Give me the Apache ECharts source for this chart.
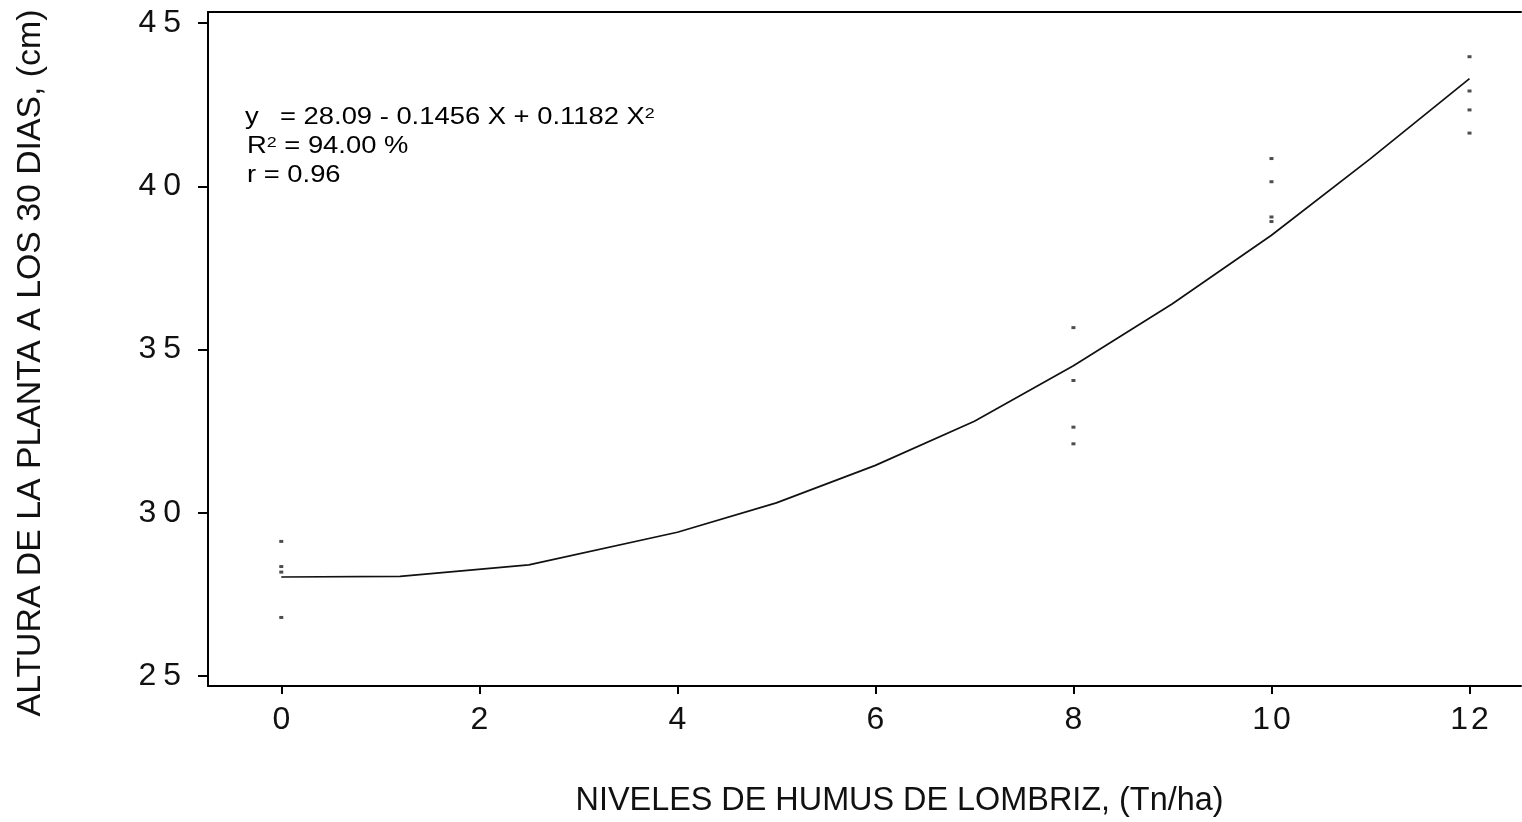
<!DOCTYPE html>
<html><head><meta charset="utf-8">
<script src="https://cdn.jsdelivr.net/npm/echarts@6/dist/echarts.min.js"></script>
<style>html,body{margin:0;padding:0;background:#fff}#c{width:1522px;height:822px}</style>
</head><body><div id="c"></div>
<script>
// ---- data ----
const xTicks = [0, 2, 4, 6, 8, 10, 12];
const yTicks = [25, 30, 35, 40, 45];
const levels = [0, 8, 10, 12];
const obsAt0 = [29.12, 28.35, 28.18, 26.79];
const obsAt8 = [35.67, 34.05, 32.62, 32.11];
const obsAt10 = [40.85, 40.14, 39.06, 38.92];
const obsAt12 = [43.97, 42.92, 42.34, 41.63];
const fitX = [0, 1.2, 2.5, 4, 5, 6, 7, 8, 9, 10, 11, 12];
const fitY = [28.03, 28.05, 28.4, 29.4, 30.3, 31.45, 32.8, 34.5, 36.4, 38.5, 40.85, 43.3];
const xTitle = 'NIVELES DE HUMUS DE LOMBRIZ, (Tn/ha)';
const yTitle = 'ALTURA DE LA PLANTA A LOS 30 DIAS, (cm)';
const eqLine1 = '= 28.09 - 0.1456 X + 0.1182 X';
const eqLine2 = '= 94.00 %';
const eqLine3 = 'r = 0.96';

const FONT = '"Liberation Sans", Arial, Helvetica, sans-serif';
const X_MIN = -0.74, X_MAX = 12.52, Y_MIN = 24.69, Y_MAX = 45.34;
const obsGroups = [obsAt0, obsAt8, obsAt10, obsAt12];
const scatterData = [];
obsGroups.forEach((g, i) => g.forEach(v => scatterData.push([levels[i], v])));
const fitData = fitX.map((x, i) => [x, fitY[i]]);

function spaced(v, cls) {
  const s = String(v);
  let out = '';
  for (let i = 0; i < s.length; i++) out += '{' + (i === 0 ? 'a' : cls) + '|' + s[i] + '}';
  return out;
}
const lblBase = { fontSize: 32, fontFamily: FONT, color: '#111' };
const supStyle = { fontSize: 15, fontFamily: FONT, fill: '#000', lineHeight: 15, verticalAlign: 'top' };
const eqStyle = { fontSize: 23, lineHeight: 23, fontFamily: FONT, fill: '#000', verticalAlign: 'middle' };
const EQ_SX = 1.19;

const chart = echarts.init(document.getElementById('c'), null, { renderer: 'canvas' });
chart.setOption({
  backgroundColor: '#fff',
  animation: false,
  grid: { left: 208, top: 12, width: 1313, height: 676, show: false },
  xAxis: [{
    type: 'value', min: X_MIN, max: X_MAX,
    name: xTitle, nameLocation: 'middle', nameGap: 99,
    nameTextStyle: { fontSize: 32.4, fontFamily: FONT, color: '#111', padding: [0, 0, 0, 70] },
    axisLine: { show: true, onZero: false, lineStyle: { color: '#000', width: 2 } },
    axisTick: { show: true, length: 8, lineStyle: { color: '#000', width: 2 }, customValues: xTicks },
    axisLabel: {
      show: true, margin: 18, customValues: xTicks,
      formatter: v => spaced(v, 'b'),
      rich: { a: lblBase, b: Object.assign({ padding: [0, 0, 0, 3] }, lblBase) }
    },
    splitLine: { show: false }
  }, {
    type: 'value', min: X_MIN, max: X_MAX, position: 'top',
    axisLine: { show: true, onZero: false, lineStyle: { color: '#000', width: 2 } },
    axisTick: { show: false }, axisLabel: { show: false }, splitLine: { show: false }
  }],
  yAxis: {
    type: 'value', min: Y_MIN, max: Y_MAX,
    name: yTitle, nameLocation: 'middle', nameGap: 160, nameRotate: 90,
    nameTextStyle: { fontSize: 33.8, fontFamily: FONT, color: '#111', padding: [0, 28, 0, 0] },
    axisLine: { show: true, onZero: false, lineStyle: { color: '#000', width: 2 } },
    axisTick: { show: true, length: 10, lineStyle: { color: '#000', width: 2 }, customValues: yTicks },
    axisLabel: {
      show: true, margin: 27, customValues: yTicks,
      formatter: v => spaced(v, 'b'),
      rich: { a: lblBase, b: Object.assign({ padding: [0, 0, 0, 7] }, lblBase) }
    },
    splitLine: { show: false }
  },
  series: [
    {
      type: 'line', data: fitData, showSymbol: false, symbol: 'none',
      lineStyle: { color: '#111', width: 1.7 }, silent: true, z: 3
    },
    {
      type: 'scatter', data: scatterData, symbol: 'rect', symbolSize: [4, 3],
      itemStyle: { color: '#222' }, silent: true, z: 4
    }
  ],
  graphic: [
    { type: 'text', x: 245, y: 118, scaleX: EQ_SX,
      style: Object.assign({ text: 'y' }, eqStyle) },
    { type: 'text', x: 280, y: 118, scaleX: EQ_SX,
      style: Object.assign({ text: eqLine1 + '{s|2}', rich: { s: supStyle } }, eqStyle) },
    { type: 'text', x: 247, y: 147, scaleX: EQ_SX,
      style: Object.assign({ text: 'R{s|2} ' + eqLine2, rich: { s: supStyle } }, eqStyle) },
    { type: 'text', x: 247, y: 176, scaleX: EQ_SX,
      style: Object.assign({ text: eqLine3 }, eqStyle) }
  ]
});
</script>
</body></html>
